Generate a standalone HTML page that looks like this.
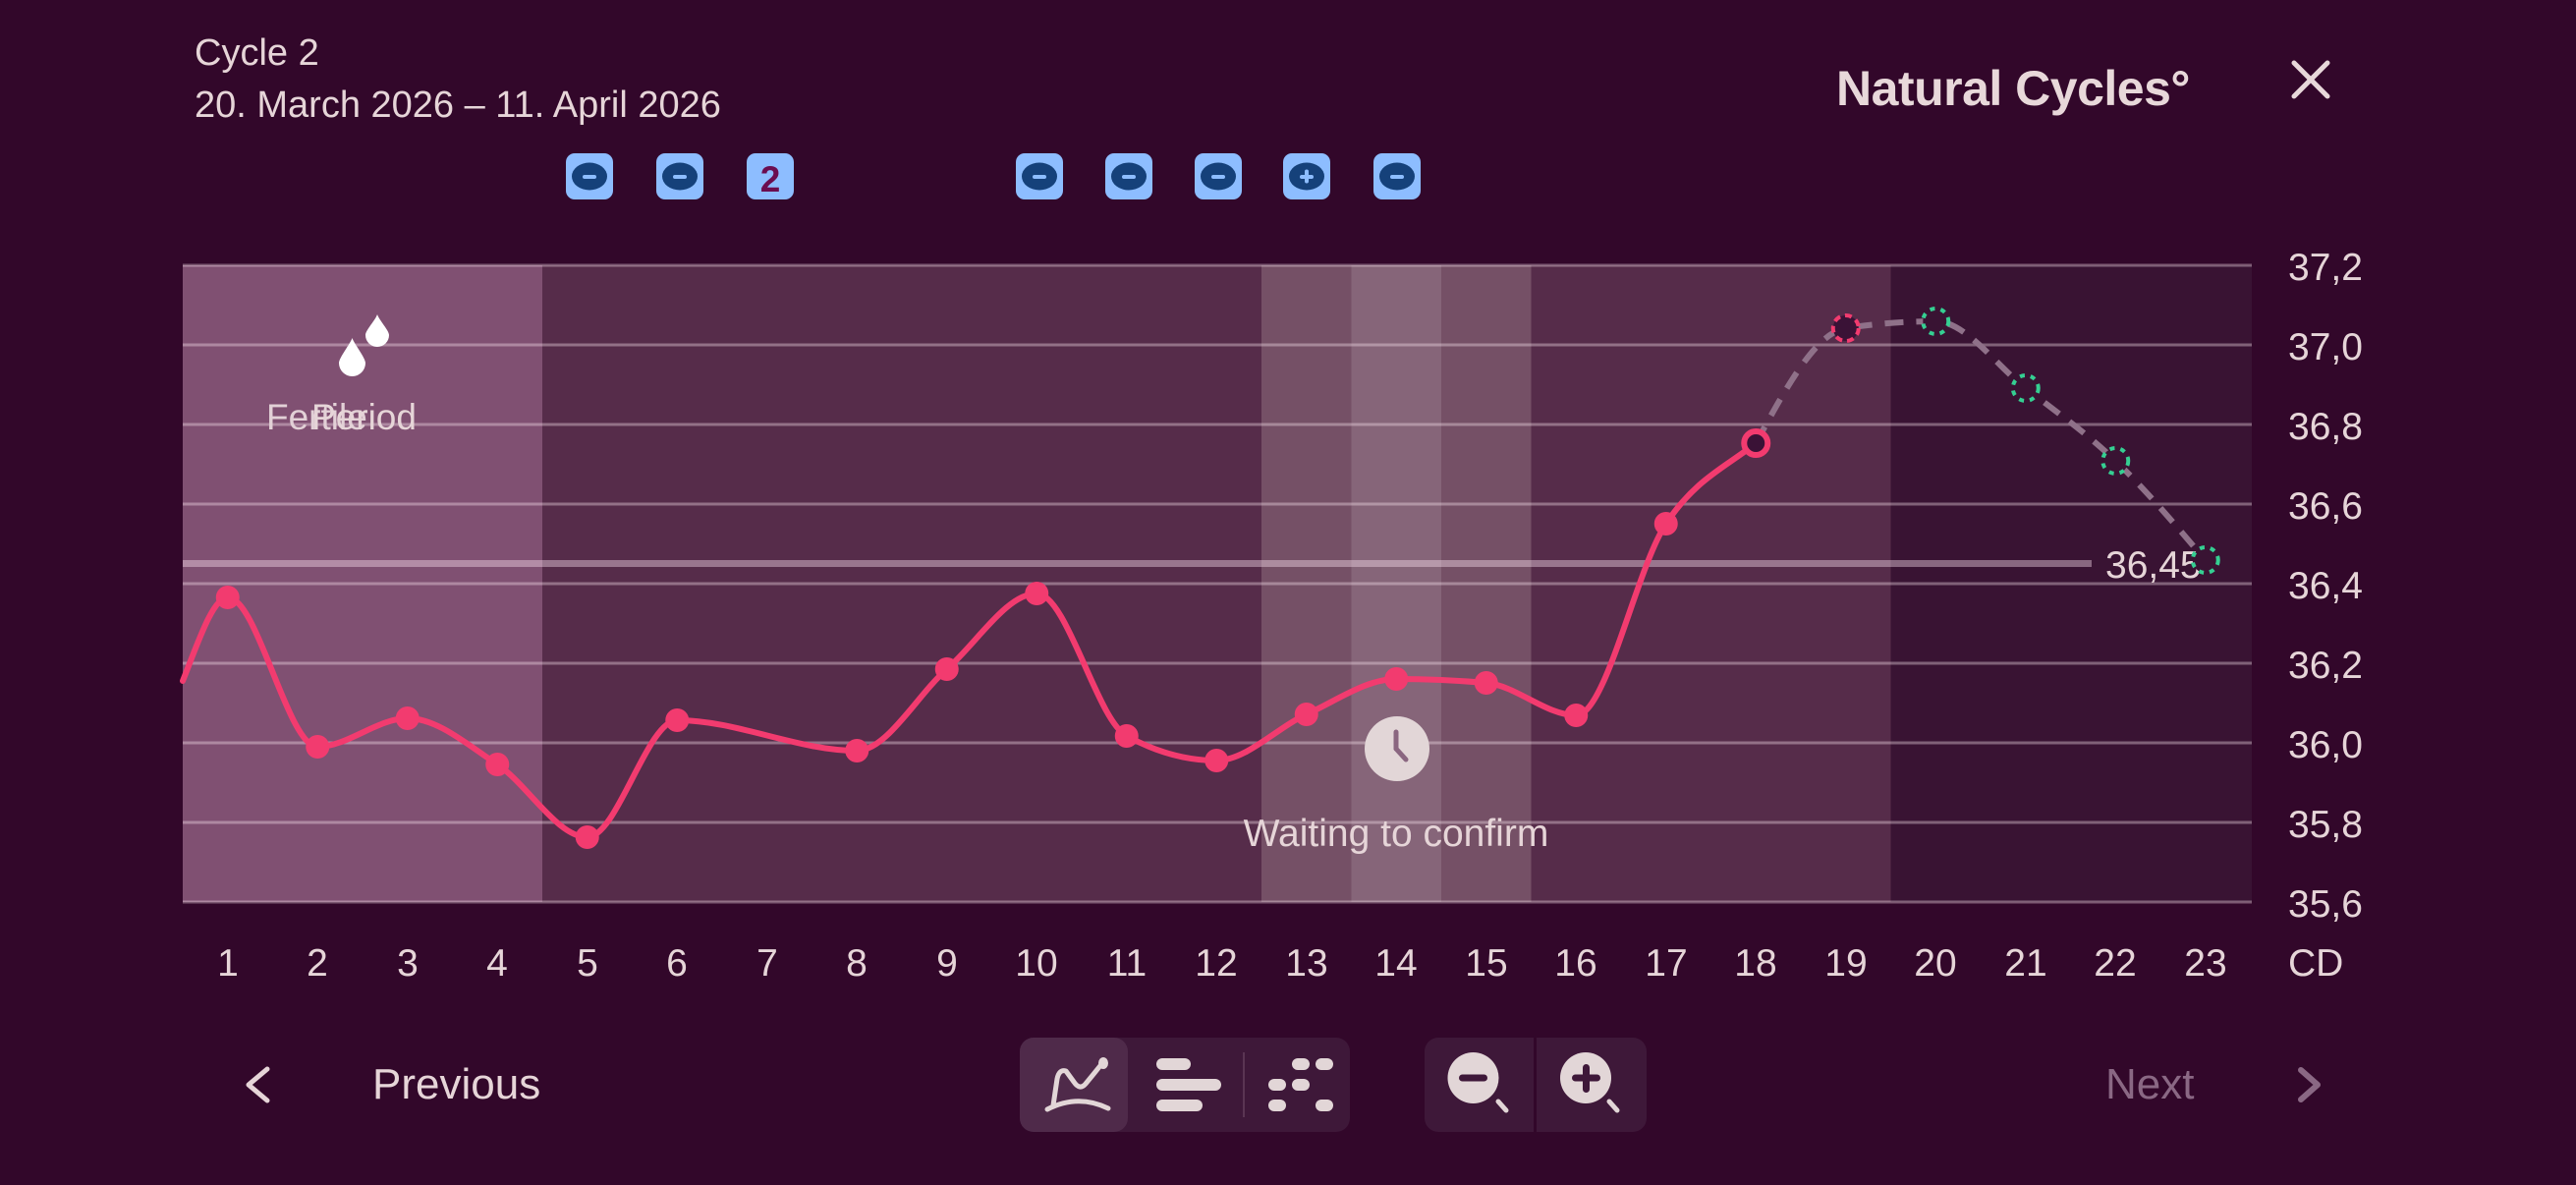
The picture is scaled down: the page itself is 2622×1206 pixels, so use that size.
<!DOCTYPE html>
<html>
<head>
<meta charset="utf-8">
<style>
  html, body { margin:0; padding:0; background:#32072a; }
  body { width:2622px; height:1206px; overflow:hidden; }
  svg { display:block; }
  text { font-family: "Liberation Sans", "DejaVu Sans", sans-serif; }
</style>
</head>
<body>
<svg width="2622" height="1206" viewBox="0 0 2622 1206" xmlns="http://www.w3.org/2000/svg">
  <rect x="0" y="0" width="2622" height="1206" fill="#32072a"/>

  <!-- Header -->
  <text x="198" y="66" font-size="38" fill="#e6d5d8">Cycle 2</text>
  <text x="198" y="119" font-size="38" fill="#e6d5d8">20. March 2026 – 11. April 2026</text>
  <text x="1869" y="107" font-size="50" font-weight="bold" letter-spacing="-0.5" fill="#e8d8da">Natural Cycles°</text>
  <g stroke="#e8d8da" stroke-width="5" stroke-linecap="round">
    <line x1="2335" y1="64" x2="2369" y2="98"/>
    <line x1="2369" y1="64" x2="2335" y2="98"/>
  </g>

  <!-- Badges -->
  <g>
    <rect x="576" y="156" width="48" height="47" rx="9" fill="#8dbdff"/>
    <ellipse cx="600" cy="179.5" rx="18" ry="14" fill="#15417a"/>
    <rect x="593" y="178" width="14" height="4" rx="2" fill="#8dbdff"/>

    <rect x="668" y="156" width="48" height="47" rx="9" fill="#8dbdff"/>
    <ellipse cx="692" cy="179.5" rx="18" ry="14" fill="#15417a"/>
    <rect x="685" y="178" width="14" height="4" rx="2" fill="#8dbdff"/>

    <rect x="760" y="156" width="48" height="47" rx="9" fill="#8dbdff"/>
    <text x="784" y="195" font-size="37" font-weight="bold" fill="#6b0d50" text-anchor="middle">2</text>

    <rect x="1034" y="156" width="48" height="47" rx="9" fill="#8dbdff"/>
    <ellipse cx="1058" cy="179.5" rx="18" ry="14" fill="#15417a"/>
    <rect x="1051" y="178" width="14" height="4" rx="2" fill="#8dbdff"/>

    <rect x="1125" y="156" width="48" height="47" rx="9" fill="#8dbdff"/>
    <ellipse cx="1149" cy="179.5" rx="18" ry="14" fill="#15417a"/>
    <rect x="1142" y="178" width="14" height="4" rx="2" fill="#8dbdff"/>

    <rect x="1216" y="156" width="48" height="47" rx="9" fill="#8dbdff"/>
    <ellipse cx="1240" cy="179.5" rx="18" ry="14" fill="#15417a"/>
    <rect x="1233" y="178" width="14" height="4" rx="2" fill="#8dbdff"/>

    <rect x="1306" y="156" width="48" height="47" rx="9" fill="#8dbdff"/>
    <ellipse cx="1330" cy="179.5" rx="18" ry="14" fill="#15417a"/>
    <rect x="1323" y="178" width="14" height="4" rx="2" fill="#8dbdff"/>
    <rect x="1328" y="172.5" width="4" height="14" rx="2" fill="#8dbdff"/>

    <rect x="1398" y="156" width="48" height="47" rx="9" fill="#8dbdff"/>
    <ellipse cx="1422" cy="179.5" rx="18" ry="14" fill="#15417a"/>
    <rect x="1415" y="178" width="14" height="4" rx="2" fill="#8dbdff"/>
  </g>

  <!-- Chart bands -->
  <rect x="186" y="270" width="366" height="648" fill="#805072"/>
  <rect x="552" y="270" width="732" height="648" fill="#562c4a"/>
  <rect x="1284" y="270" width="91.5" height="648" fill="#755066"/>
  <rect x="1375.5" y="270" width="91.5" height="648" fill="#866579"/>
  <rect x="1467" y="270" width="91.5" height="648" fill="#755066"/>
  <rect x="1558.5" y="270" width="366" height="648" fill="#562c4a"/>
  <rect x="1924.5" y="270" width="367.5" height="648" fill="#391333"/>

  <!-- Grid lines -->
  <g fill="rgba(255,235,245,0.36)">
    <rect x="186" y="268.5" width="2106" height="3"/>
    <rect x="186" y="349.5" width="2106" height="3"/>
    <rect x="186" y="430.5" width="2106" height="3"/>
    <rect x="186" y="511.5" width="2106" height="3"/>
    <rect x="186" y="592.5" width="2106" height="3"/>
    <rect x="186" y="673.5" width="2106" height="3"/>
    <rect x="186" y="754.5" width="2106" height="3"/>
    <rect x="186" y="835.5" width="2106" height="3"/>
    <rect x="186" y="916.5" width="2106" height="3"/>
  </g>

  <!-- Threshold line -->
  <rect x="186" y="570" width="1943" height="7" fill="rgba(255,230,245,0.4)"/>
  <text x="2143" y="588" font-size="39" fill="#e6d5d8">36,45</text>

  <!-- Drops + labels in period band -->
  <path d="M384,320 C386,326 396,336.2 396,341 A12,12 0 0 1 372,341 C372,336.2 382,326 384,320Z" fill="#ffffff"/>
  <path d="M358.5,344 C360.5,350 372,364.1 372,369.5 A13.5,13.5 0 0 1 345,369.5 C345,364.1 356.5,350 358.5,344Z" fill="#ffffff"/>
  <text x="271" y="437" font-size="37" fill="#e2d0d6">Fertile</text>
  <text x="317" y="437" font-size="37" fill="#e6d5d8">Period</text>

  <!-- Clock + waiting text -->
  <circle cx="1422" cy="762" r="33" fill="#e2d6d7"/>
  <g stroke="#8a6680" stroke-width="5" stroke-linecap="round">
    <line x1="1421" y1="762" x2="1421" y2="745"/>
    <line x1="1421" y1="762" x2="1431" y2="773"/>
  </g>
  <text x="1421" y="861" font-size="39" fill="#e6d5d8" text-anchor="middle">Waiting to confirm</text>

  <!-- Dashed prediction line -->
  <path d="M1787.25,451 C1817.75,394.83 1848.25,338.67 1878.75,334 C1909.25,329.33 1939.75,327 1970.25,327 C2000.75,327 2031.25,371.33 2061.75,395 C2092.25,418.67 2122.75,439.83 2153.25,469 C2183.75,498.17 2214.25,534.08 2244.75,570"
        fill="none" stroke="#8f7189" stroke-width="6" stroke-dasharray="19 13"/>

  <!-- Solid temperature line -->
  <path d="M186,693 C201.25,654.9 216.5,608 231.75,608
           C262.25,608 292.75,760 323.25,760
           C353.75,760 384.25,731 414.75,731
           C445.25,731 475.75,757.83 506.25,778
           C536.75,798.17 567.25,852 597.75,852
           C628.25,852 658.75,733 689.25,733
           C750.25,733 811.25,764 872.25,764
           C902.75,764 933.25,707.67 963.75,681
           C994.25,654.33 1024.75,604 1055.25,604
           C1085.75,604 1116.25,732.33 1146.75,749
           C1177.25,765.67 1207.75,774 1238.25,774
           C1268.75,774 1299.25,740.83 1329.75,727
           C1360.25,713.17 1390.75,691 1421.25,691
           C1451.75,691 1482.25,692.33 1512.75,695
           C1543.25,697.67 1573.75,728 1604.25,728
           C1634.75,728 1665.25,579.17 1695.75,533
           C1726.25,486.83 1756.75,475.4 1787.25,451"
        fill="none" stroke="#f23b6f" stroke-width="6" stroke-linecap="round" stroke-linejoin="round"/>

  <!-- Data points -->
  <g fill="#f23b6f">
    <circle cx="231.75" cy="608" r="12"/>
    <circle cx="323.25" cy="760" r="12"/>
    <circle cx="414.75" cy="731" r="12"/>
    <circle cx="506.25" cy="778" r="12"/>
    <circle cx="597.75" cy="852" r="12"/>
    <circle cx="689.25" cy="733" r="12"/>
    <circle cx="872.25" cy="764" r="12"/>
    <circle cx="963.75" cy="681" r="12"/>
    <circle cx="1055.25" cy="604" r="12"/>
    <circle cx="1146.75" cy="749" r="12"/>
    <circle cx="1238.25" cy="774" r="12"/>
    <circle cx="1329.75" cy="727" r="12"/>
    <circle cx="1421.25" cy="691" r="12"/>
    <circle cx="1512.75" cy="695" r="12"/>
    <circle cx="1604.25" cy="728" r="12"/>
    <circle cx="1695.75" cy="533" r="12"/>
  </g>
  <circle cx="1787.25" cy="451" r="12" fill="#3a1236" stroke="#f23b6f" stroke-width="6"/>
  <circle cx="1878.75" cy="334" r="13" fill="#3a1236" stroke="#f23b6f" stroke-width="4" stroke-dasharray="7 5"/>
  <g fill="#391333" stroke="#35cf92" stroke-width="4" stroke-dasharray="5 6">
    <circle cx="1970.25" cy="327" r="13"/>
    <circle cx="2061.75" cy="395" r="13"/>
    <circle cx="2153.25" cy="469" r="13"/>
    <circle cx="2244.75" cy="570" r="13"/>
  </g>

  <!-- Y axis labels -->
  <g font-size="39" fill="#e6d5d8">
    <text x="2329" y="285">37,2</text>
    <text x="2329" y="366">37,0</text>
    <text x="2329" y="447">36,8</text>
    <text x="2329" y="528">36,6</text>
    <text x="2329" y="609">36,4</text>
    <text x="2329" y="690">36,2</text>
    <text x="2329" y="771">36,0</text>
    <text x="2329" y="852">35,8</text>
    <text x="2329" y="933">35,6</text>
    <text x="2329" y="993">CD</text>
  </g>

  <!-- X axis labels -->
  <g font-size="39" fill="#e6d5d8" text-anchor="middle">
    <text x="232" y="993">1</text>
    <text x="323" y="993">2</text>
    <text x="415" y="993">3</text>
    <text x="506" y="993">4</text>
    <text x="598" y="993">5</text>
    <text x="689" y="993">6</text>
    <text x="781" y="993">7</text>
    <text x="872" y="993">8</text>
    <text x="964" y="993">9</text>
    <text x="1055" y="993">10</text>
    <text x="1147" y="993">11</text>
    <text x="1238" y="993">12</text>
    <text x="1330" y="993">13</text>
    <text x="1421" y="993">14</text>
    <text x="1513" y="993">15</text>
    <text x="1604" y="993">16</text>
    <text x="1696" y="993">17</text>
    <text x="1787" y="993">18</text>
    <text x="1879" y="993">19</text>
    <text x="1970" y="993">20</text>
    <text x="2062" y="993">21</text>
    <text x="2153" y="993">22</text>
    <text x="2245" y="993">23</text>
  </g>

  <!-- Bottom navigation -->
  <polyline points="272,1088 253,1104 272,1120" fill="none" stroke="#e6d5d8" stroke-width="5" stroke-linecap="round" stroke-linejoin="round"/>
  <text x="379" y="1118" font-size="44" fill="#e6d5d8">Previous</text>

  <text x="2143" y="1118" font-size="44" fill="#8a6884">Next</text>
  <polyline points="2342,1089 2359,1104 2342,1119" fill="none" stroke="#8a6884" stroke-width="6" stroke-linecap="round" stroke-linejoin="round"/>

  <!-- Segmented control -->
  <rect x="1038" y="1056" width="336" height="96" rx="14" fill="#3e1839"/>
  <rect x="1038" y="1056" width="110" height="96" rx="14" fill="#4f2a4a"/>
  <rect x="1265" y="1071" width="2" height="66" fill="#5a3553"/>
  <g fill="none" stroke="#e2d6d7" stroke-width="5" stroke-linecap="round" stroke-linejoin="round">
    <path d="M1066,1129 Q1097,1113 1128,1128"/>
    <path d="M1072,1125 L1076,1098 Q1078,1088 1085,1090 L1093,1101 Q1099,1110 1105,1103 L1114,1092 L1122,1082"/>
  </g>
  <ellipse cx="1123" cy="1082" rx="5" ry="6" fill="#e2d6d7"/>
  <g fill="#e2d6d7">
    <rect x="1177" y="1077" width="35" height="12" rx="6"/>
    <rect x="1177" y="1098" width="66" height="12" rx="6"/>
    <rect x="1177" y="1119" width="47" height="12" rx="6"/>
    <rect x="1315" y="1077" width="18" height="12" rx="6"/>
    <rect x="1339" y="1077" width="18" height="12" rx="6"/>
    <rect x="1291" y="1098" width="18" height="12" rx="6"/>
    <rect x="1315" y="1098" width="18" height="12" rx="6"/>
    <rect x="1291" y="1119" width="18" height="12" rx="6"/>
    <rect x="1339" y="1119" width="18" height="12" rx="6"/>
  </g>

  <!-- Zoom control -->
  <rect x="1450" y="1056" width="226" height="96" rx="14" fill="#3e1839"/>
  <rect x="1561" y="1056" width="3" height="96" fill="#32072a"/>
  <circle cx="1499.5" cy="1097" r="26" fill="#e2d6d7"/>
  <rect x="1485" y="1093.5" width="29" height="7" rx="3.5" fill="#3e1839"/>
  <line x1="1525" y1="1121" x2="1533" y2="1130" stroke="#e2d6d7" stroke-width="5" stroke-linecap="round"/>
  <circle cx="1614" cy="1097" r="26" fill="#e2d6d7"/>
  <rect x="1600" y="1093.5" width="29" height="7" rx="3.5" fill="#3e1839"/>
  <rect x="1611" y="1083" width="7" height="29" rx="3.5" fill="#3e1839"/>
  <line x1="1638" y1="1121" x2="1646" y2="1130" stroke="#e2d6d7" stroke-width="5" stroke-linecap="round"/>
</svg>
</body>
</html>
